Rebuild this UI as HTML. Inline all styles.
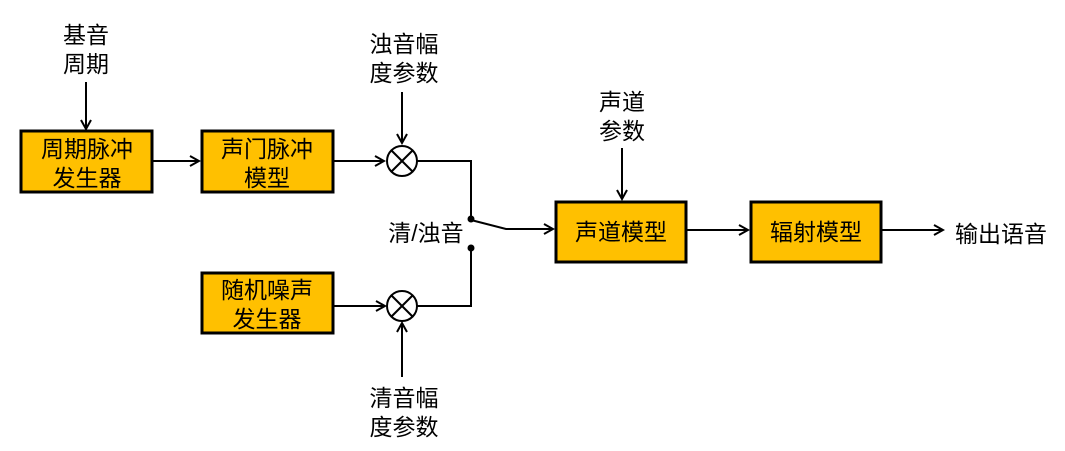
<!DOCTYPE html>
<html><head><meta charset="utf-8"><style>
html,body{margin:0;padding:0;background:#fff;}
svg{display:block;}
text{font-family:"Liberation Sans","Noto Sans CJK SC",sans-serif;font-size:23px;fill:#000;}
</style></head><body>
<svg width="1065" height="451" viewBox="0 0 1065 451" xmlns="http://www.w3.org/2000/svg">
<defs>
<marker id="a" markerWidth="12" markerHeight="12" refX="10" refY="6" orient="auto" markerUnits="userSpaceOnUse">
<path d="M1,1 L10,6 L1,11" fill="none" stroke="#000" stroke-width="2"/>
</marker>
</defs>
<g stroke="#000" stroke-width="3" fill="#FFC000">
<rect x="21" y="131" width="131" height="61"/>
<rect x="202" y="131" width="131" height="61"/>
<rect x="202" y="273" width="131" height="60"/>
<rect x="556" y="202" width="130" height="60"/>
<rect x="751" y="202" width="130" height="60"/>
</g>
<g stroke="#000" stroke-width="2" fill="none">
<line x1="86" y1="82" x2="86" y2="129" marker-end="url(#a)"/>
<line x1="152" y1="161" x2="199" y2="161" marker-end="url(#a)"/>
<line x1="333" y1="161" x2="384" y2="161" marker-end="url(#a)"/>
<line x1="402" y1="92" x2="402" y2="143" marker-end="url(#a)"/>
<circle cx="402" cy="161" r="15"/>
<line x1="391" y1="150" x2="413" y2="172"/><line x1="413" y1="150" x2="391" y2="172"/>
<polyline points="417,161 471,161 471,220"/>
<polyline points="471,220 506,229 553,229" />
<line x1="540" y1="229" x2="553" y2="229" marker-end="url(#a)"/>
<polyline points="471,248 471,306 417,306"/>
<line x1="333" y1="306" x2="385" y2="306" marker-end="url(#a)"/>
<circle cx="402" cy="306" r="15"/>
<line x1="391" y1="295" x2="413" y2="317"/><line x1="413" y1="295" x2="391" y2="317"/>
<line x1="402" y1="377" x2="402" y2="323" marker-end="url(#a)"/>
<line x1="622" y1="148" x2="622" y2="199" marker-end="url(#a)"/>
<line x1="686" y1="230" x2="748" y2="230" marker-end="url(#a)"/>
<line x1="881" y1="230" x2="943" y2="230" marker-end="url(#a)"/>
</g>
<circle cx="471" cy="219" r="3.5" fill="#000"/>
<circle cx="471" cy="248" r="3.5" fill="#000"/>
<g text-anchor="middle">
<text x="86" y="43">基音</text><text x="86" y="72">周期</text>
<text x="404" y="52">浊音幅</text><text x="404" y="81">度参数</text>
<text x="622" y="110">声道</text><text x="622" y="139">参数</text>
<text x="404" y="406">清音幅</text><text x="404" y="435">度参数</text>
<text x="87" y="157">周期脉冲</text><text x="87" y="186">发生器</text>
<text x="267" y="157">声门脉冲</text><text x="267" y="186">模型</text>
<text x="267" y="298">随机噪声</text><text x="267" y="327">发生器</text>
<text x="621" y="240">声道模型</text>
<text x="816" y="240">辐射模型</text>
<text x="426" y="241">清/浊音</text>
</g>
<text x="955" y="242">输出语音</text>
</svg>
</body></html>
